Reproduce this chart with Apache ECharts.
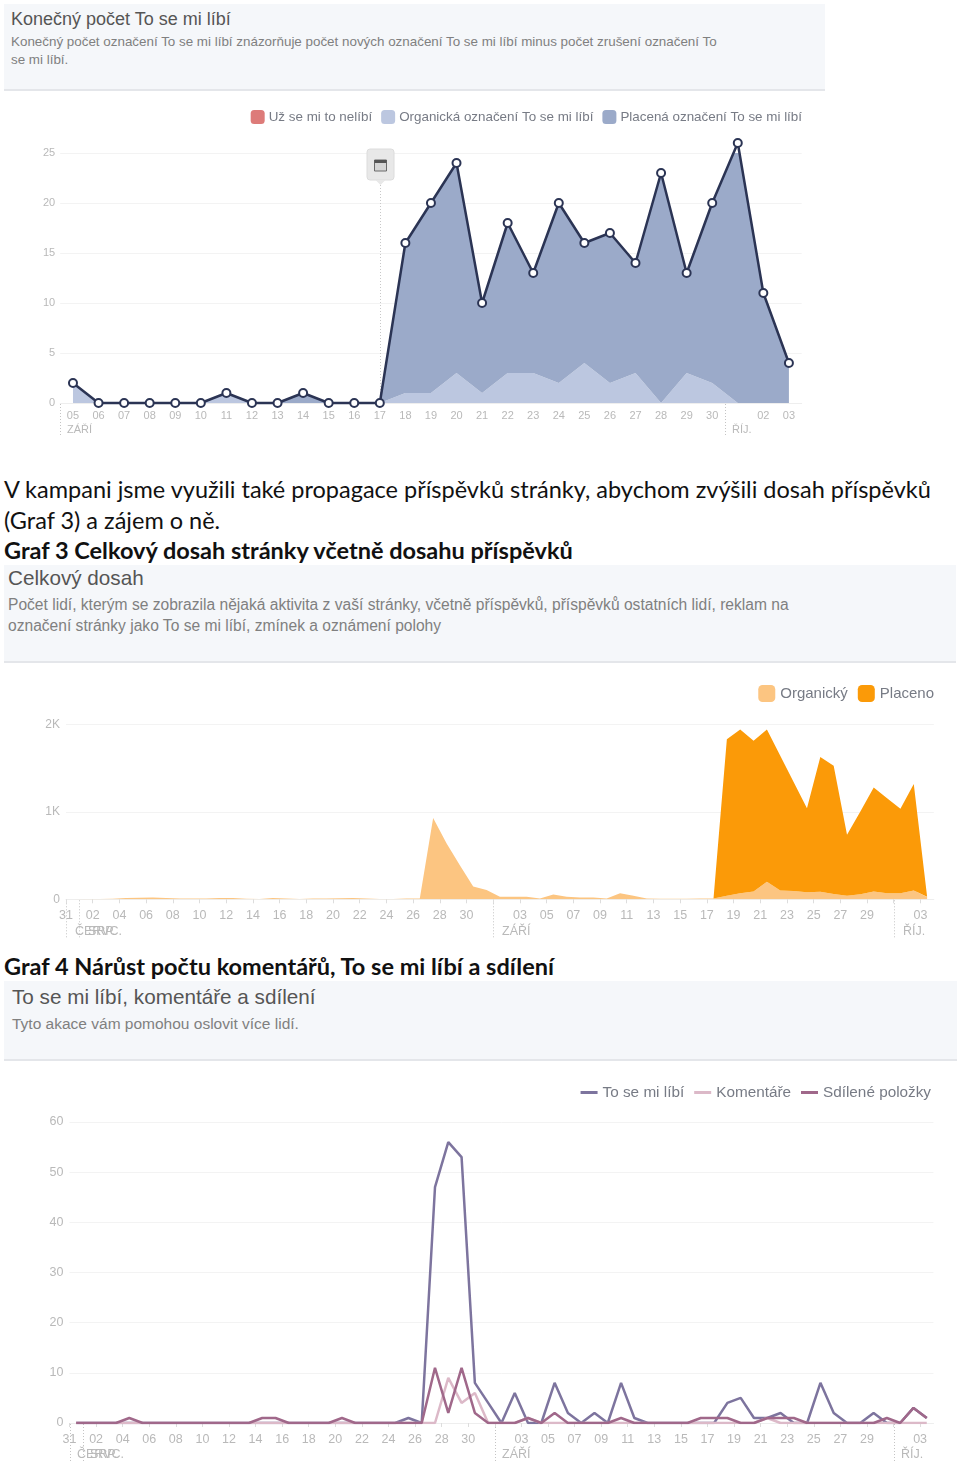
<!DOCTYPE html>
<html>
<head>
<meta charset="utf-8">
<title>Grafy</title>
<script src="https://cdn.jsdelivr.net/npm/echarts@6/dist/echarts.min.js"></script>
<style>
html, body { margin: 0; padding: 0; background: #fff; }
body { position: relative; width: 960px; height: 1465px; overflow: hidden; }
.abs { position: absolute; white-space: nowrap; }
.doc { font-family: Lato, "Noto Sans", sans-serif; font-size: 23.5px; color: #111; left: 4px; line-height: 30px; }
.doc.bold { font-weight: 700; }
.head { background: #f5f7fa; border-bottom: 2px solid #e4e6ea; }
.title { font-family: "Liberation Sans", sans-serif; color: #555; }
.sub { font-family: "Liberation Sans", sans-serif; color: #808080; }
.chart { position: absolute; }
</style>
</head>
<body>
<div class="abs head" style="left:4px;top:4px;width:821px;height:85px"></div>
<div class="abs title" style="left:11px;top:9px;font-size:18px">Konečný počet To se mi líbí</div>
<div class="abs sub" style="left:11px;top:33px;font-size:13.4px;line-height:18px">Konečný počet označení To se mi líbí znázorňuje počet nových označení To se mi líbí minus počet zrušení označení To<br>se mi líbí.</div>
<div id="chartLikes" class="chart" style="left:4px;top:92px;width:821px;height:348px"></div>

<div class="abs doc" style="top:474px">V kampani jsme využili také propagace příspěvků stránky, abychom zvýšili dosah příspěvků</div>
<div class="abs doc" style="top:505px">(Graf 3) a zájem o ně.</div>
<div class="abs doc bold" style="top:535px">Graf 3 Celkový dosah stránky včetně dosahu příspěvků</div>

<div class="abs head" style="left:4px;top:565px;width:952px;height:96px"></div>
<div class="abs title" style="left:8px;top:566px;font-size:20.7px">Celkový dosah</div>
<div class="abs sub" style="left:8px;top:594px;font-size:15.6px;line-height:21px">Počet lidí, kterým se zobrazila nějaká aktivita z vaší stránky, včetně příspěvků, příspěvků ostatních lidí, reklam na<br>označení stránky jako To se mi líbí, zmínek a oznámení polohy</div>
<div id="chartReach" class="chart" style="left:4px;top:663px;width:952px;height:277px"></div>

<div class="abs doc bold" style="top:951px">Graf 4 Nárůst počtu komentářů, To se mi líbí a sdílení</div>

<div class="abs head" style="left:4px;top:981px;width:953px;height:78px"></div>
<div class="abs title" style="left:12px;top:985px;font-size:20.7px">To se mi líbí, komentáře a sdílení</div>
<div class="abs sub" style="left:12px;top:1015px;font-size:15.5px">Tyto akace vám pomohou oslovit více lidí.</div>
<div id="chartEngage" class="chart" style="left:4px;top:1061px;width:953px;height:404px"></div>

<script>
// graf 2 - konecny pocet To se mi libi
const likeDays = ['05','06','07','08','09','10','11','12','13','14','15','16','17','18','19','20','21','22','23','24','25','26','27','28','29','30','','02','03']
const likeTotal = [2,0,0,0,0,0,1,0,0,1,0,0,0,16,20,24,10,18,13,20,16,17,14,23,13,20,26,11,4]
const likeOrganic = [2,0,0,0,0,0,1,0,0,0,0,0,0,1,1,3,1,3,3,2,4,2,3,0,3,2,0,0,0]
const likePaid = [0,0,0,0,0,0,0,0,0,1,0,0,0,15,19,21,9,15,10,18,12,15,11,23,10,18,26,11,4]
const likeTicks = [0,5,10,15,20,25]

// spolecna osa pro graf 3 a 4, 31.7. az 3.10.
const dayLabels = ['31','01','02','03','04','05','06','07','08','09','10','11','12','13','14','15','16','17','18','19','20','21','22','23','24','25','26','27','28','29','30','31',
  '','02','03','04','05','06','07','08','09','10','11','12','13','14','15','16','17','18','19','20','21','22','23','24','25','26','27','28','29','30',
  '','02','03','']
const dayCategories = dayLabels.slice(0, 65).map((d, i) => `d${i}`)

// graf 3 - celkovy dosah
const reachOrganic = [2,3,4,6,15,18,20,15,8,10,8,15,15,5,3,15,10,3,8,8,12,15,10,3,3,10,10,930,640,390,145,105,30,30,30,10,55,30,20,20,10,70,40,10,5,5,5,8,10,40,70,90,200,100,95,80,85,60,42,57,88,70,70,100,25]
const reachPaid = [0,0,0,0,0,0,0,0,0,0,0,0,0,0,0,0,0,0,0,0,0,0,0,0,0,0,0,0,0,0,0,0,0,0,0,0,0,0,0,0,0,0,0,0,0,0,0,0,0,1790,1870,1723,1740,1540,1245,960,1540,1467,695,947,1191,1086,964,1217,5]

// graf 4 - to se mi libi, komentare, sdileni
const engageLikes = [0,0,0,0,0,0,0,0,0,0,0,0,0,0,0,0,0,0,0,0,0,0,0,0,0,1,0,47,56,53,8,4,0,6,0,0,8,2,0,2,0,8,1,0,0,0,0,0,0,4,5,1,1,2,0,0,8,2,0,0,2,0,0,3,1]
const engageComments = [0,0,0,0,0,0,0,0,0,0,0,0,0,0,0,0,0,0,0,0,0,0,0,0,0,0,0,0,9,4,6,0,0,0,1,0,0,0,0,0,0,0,0,0,0,0,0,0,0,0,0,0,1,0,0,0,0,0,0,0,0,0,0,0,0]
const engageShares = [0,0,0,0,1,0,0,0,0,0,0,0,0,0,1,1,0,0,0,0,1,0,0,0,0,0,0,11,2,11,2,0,0,0,1,0,2,0,0,0,0,1,0,0,0,0,0,1,1,1,0,0,1,1,1,0,0,0,0,0,0,1,0,3,1]

const axisGrey = '#b9b9b9'
const gridGrey = '#f3f3f3'
const tickGrey = '#dddddd'
const legendGrey = '#777b85'

function valueAxis(fontSize, margin, extra) {
  return {
    type: 'value',
    min: 0,
    axisLine: { show: false },
    axisTick: { show: false },
    splitLine: { lineStyle: { color: gridGrey } },
    axisLabel: { color: axisGrey, fontSize, margin, fontFamily: 'Liberation Sans' },
    ...extra,
  }
}

// dvojita osa: serie sedi uprostred pasma, popisky a carky na hrane pasma
function dayAxes(fontSize) {
  return [
    { type: 'category', data: dayCategories, boundaryGap: true, show: false },
    {
      type: 'category',
      position: 'bottom',
      data: dayLabels,
      boundaryGap: false,
      axisLine: { lineStyle: { color: '#eeeeee' } },
      axisTick: { interval: 1, length: 4, lineStyle: { color: tickGrey } },
      axisLabel: { interval: 1, color: axisGrey, fontSize, margin: 10, fontFamily: 'Liberation Sans' },
    },
  ]
}

// teckovane oddelovace mesicu a nazvy mesicu pod osou
function monthMarks(chart, marks, fontSize, lineY, labelDx) {
  const first = chart.convertToPixel({ xAxisIndex: 0 }, 0)
  const second = chart.convertToPixel({ xAxisIndex: 0 }, 1)
  const halfBand = (second - first) / 2
  const y0 = chart.convertToPixel({ yAxisIndex: 0 }, 0)
  const elements = []
  marks.forEach((m) => {
    const x = Math.round(chart.convertToPixel({ xAxisIndex: 0 }, m.index) - halfBand) + 0.5
    elements.push({
      type: 'line',
      shape: { x1: x, y1: y0 + 1, x2: x, y2: y0 + lineY },
      style: { stroke: '#c4c4c4', lineWidth: 1, lineDash: [1, 2] },
    })
    elements.push({
      type: 'text',
      x: x + labelDx,
      y: y0 + lineY - 12.5,
      style: { text: m.label, fill: axisGrey, font: `${fontSize}px "Liberation Sans"` },
    })
  })
  return elements
}

// graf 2
const likesChart = echarts.init(document.getElementById('chartLikes'))
likesChart.setOption({
  animation: false,
  backgroundColor: 'transparent',
  grid: { left: 56.2, width: 741.5, top: 61, height: 250 },
  legend: {
    data: ['Už se mi to nelíbí', 'Organická označení To se mi líbí', 'Placená označení To se mi líbí'],
    right: 18,
    top: 13,
    icon: 'roundRect',
    itemWidth: 14,
    itemHeight: 14,
    itemGap: 9,
    textStyle: { color: legendGrey, fontSize: 13.4, fontFamily: 'Liberation Sans', padding: [0, 0, 0, -1] },
  },
  xAxis: {
    type: 'category',
    data: likeDays,
    boundaryGap: true,
    axisLine: { lineStyle: { color: '#eeeeee' } },
    axisTick: { length: 4, lineStyle: { color: tickGrey } },
    axisLabel: { interval: 0, color: axisGrey, fontSize: 11, margin: 7, fontFamily: 'Liberation Sans' },
  },
  yAxis: valueAxis(11, 5, { max: likeTicks[likeTicks.length - 1], interval: 5 }),
  series: [
    { name: 'Už se mi to nelíbí', type: 'line', data: [], itemStyle: { color: '#dd7b79' } },
    {
      name: 'Organická označení To se mi líbí',
      type: 'line',
      stack: 'likes',
      data: likeOrganic,
      symbol: 'none',
      lineStyle: { width: 0 },
      areaStyle: { color: '#bcc7e0', opacity: 1 },
      itemStyle: { color: '#bcc7e0' },
    },
    {
      name: 'Placená označení To se mi líbí',
      type: 'line',
      stack: 'likes',
      data: likePaid,
      symbol: 'none',
      lineStyle: { width: 0 },
      areaStyle: { color: '#9baac9', opacity: 1 },
      itemStyle: { color: '#9baac9' },
    },
    {
      name: 'Celkem',
      type: 'line',
      data: likeTotal,
      clip: false,
      z: 5,
      symbol: 'circle',
      symbolSize: 8,
      showAllSymbol: true,
      lineStyle: { color: '#2b3454', width: 2.5 },
      itemStyle: { color: '#ffffff', borderColor: '#2b3454', borderWidth: 2 },
    },
  ],
})

// znacka udalosti nad 17.9.
const pinIndex = likeDays.indexOf('17')
const pinX = Math.round(likesChart.convertToPixel({ xAxisIndex: 0 }, pinIndex)) + 0.5
const pinBase = likesChart.convertToPixel({ yAxisIndex: 0 }, 0)
const pinTop = likesChart.convertToPixel({ yAxisIndex: 0 }, 25)
likesChart.setOption({
  graphic: [
    ...monthMarks(likesChart, [{ index: 0, label: 'ZÁŘÍ' }, { index: 26, label: 'ŘÍJ.' }], 11, 34, 6.5),
    {
      type: 'line',
      z: 4,
      shape: { x1: pinX, y1: pinTop + 32, x2: pinX, y2: pinBase },
      style: { stroke: '#c8c8c8', lineWidth: 1, lineDash: [1, 2] },
    },
    {
      type: 'rect',
      shape: { x: pinX - 13.5, y: pinTop - 4, width: 27, height: 31, r: 3 },
      style: { fill: '#e8e8e8', stroke: '#dcdcdc' },
    },
    {
      type: 'polygon',
      shape: { points: [[pinX - 5, pinTop + 27], [pinX + 5, pinTop + 27], [pinX, pinTop + 32]] },
      style: { fill: '#e8e8e8' },
    },
    {
      type: 'rect',
      shape: { x: pinX - 6, y: pinTop + 7, width: 12, height: 11 },
      style: { fill: '#d5d5d5', stroke: '#6a6a6a', lineWidth: 1 },
    },
    {
      type: 'rect',
      shape: { x: pinX - 6, y: pinTop + 7, width: 12, height: 3 },
      style: { fill: '#555555' },
    },
  ],
})

// graf 3
const reachChart = echarts.init(document.getElementById('chartReach'))
reachChart.setOption({
  animation: false,
  backgroundColor: 'transparent',
  grid: { left: 62, width: 867.8, top: 61.3, height: 175 },
  legend: {
    data: ['Organický', 'Placeno'],
    right: 17,
    top: 17,
    icon: 'roundRect',
    itemWidth: 17,
    itemHeight: 17,
    itemGap: 10,
    textStyle: { color: legendGrey, fontSize: 15, fontFamily: 'Liberation Sans' },
  },
  xAxis: dayAxes(12.5),
  yAxis: valueAxis(12, 6, {
    max: 2000,
    interval: 1000,
    axisLabel: {
      color: axisGrey,
      fontSize: 12,
      margin: 6,
      fontFamily: 'Liberation Sans',
      formatter: (v) => (v === 0 ? '0' : `${v / 1000}K`),
    },
  }),
  series: [
    {
      name: 'Organický',
      type: 'line',
      stack: 'reach',
      data: reachOrganic,
      symbol: 'none',
      lineStyle: { width: 0 },
      areaStyle: { color: '#fcc581', opacity: 1 },
      itemStyle: { color: '#fcc581' },
    },
    {
      name: 'Placeno',
      type: 'line',
      stack: 'reach',
      data: reachPaid,
      symbol: 'none',
      lineStyle: { width: 0 },
      areaStyle: { color: '#fb9a08', opacity: 1 },
      itemStyle: { color: '#fb9a08' },
    },
  ],
})
reachChart.setOption({
  graphic: monthMarks(reachChart, [
    { index: 0, label: 'ČERVC.' },
    { index: 1, label: 'SRP.' },
    { index: 32, label: 'ZÁŘÍ' },
    { index: 62, label: 'ŘÍJ.' },
  ], 12.5, 38, 8.5),
})

// graf 4
const engageChart = echarts.init(document.getElementById('chartEngage'))
const engageLine = (name, data, color, width) => ({
  name,
  type: 'line',
  data,
  symbol: 'none',
  lineStyle: { color, width },
  itemStyle: { color },
})
engageChart.setOption({
  animation: false,
  backgroundColor: 'transparent',
  grid: { left: 65.5, width: 863.9, top: 61, height: 301 },
  legend: {
    data: ['To se mi líbí', 'Komentáře', 'Sdílené položky'],
    right: 21,
    top: 19,
    icon: 'rect',
    itemWidth: 17,
    itemHeight: 3,
    itemGap: 10,
    textStyle: { color: legendGrey, fontSize: 15.3, fontFamily: 'Liberation Sans' },
  },
  xAxis: dayAxes(12.5),
  yAxis: valueAxis(12.5, 6, { max: 60, interval: 10 }),
  series: [
    engageLine('To se mi líbí', engageLikes, '#7d749e', 2.5),
    engageLine('Komentáře', engageComments, '#dcb9c8', 2.5),
    engageLine('Sdílené položky', engageShares, '#a0688a', 2.5),
  ],
})
engageChart.setOption({
  graphic: monthMarks(engageChart, [
    { index: 0, label: 'ČERVC.' },
    { index: 1, label: 'SRP.' },
    { index: 32, label: 'ZÁŘÍ' },
    { index: 62, label: 'ŘÍJ.' },
  ], 12.5, 38, 6.5),
})
</script>
</body>
</html>
